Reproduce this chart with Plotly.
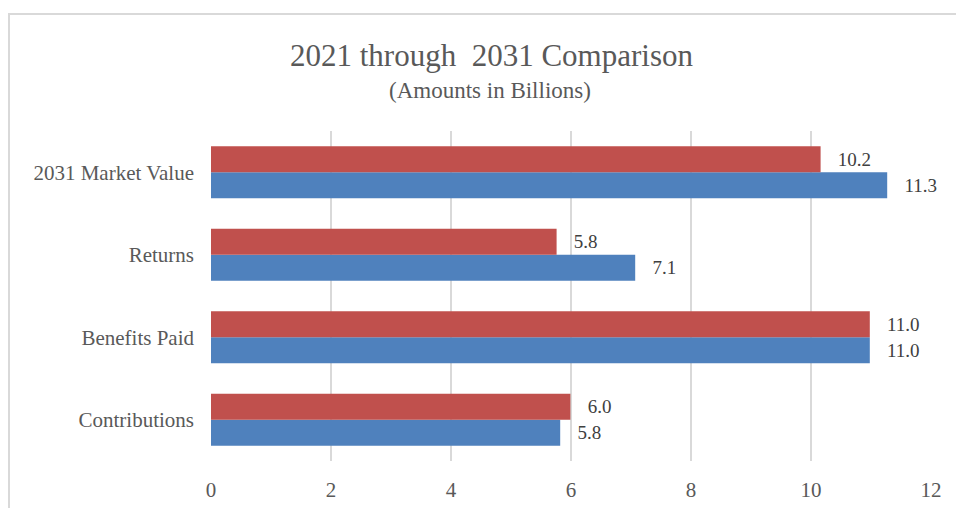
import plotly.graph_objects as go

# Categories listed bottom-to-top (Plotly draws the first category at the bottom)
categories = ["Contributions", "Benefits Paid", "Returns", "2031 Market Value"]
values_2031 = [5.82, 10.98, 7.07, 11.27]   # blue series
values_2021 = [5.99, 10.98, 5.76, 10.16]   # red series
x_ticks = [0, 2, 4, 6, 8, 10, 12]

W, H = 956, 508
ML, MR, MT, MB = 211, 25, 131, 47
PW, PH = W - ML - MR, H - MT - MB

SERIF = "Liberation Serif"
LABEL_TPL = "\u00a0\u00a0\u00a0%{x:.1f}"

fig = go.Figure()
fig.add_trace(go.Bar(
    y=categories, x=values_2031, orientation="h", name="2031",
    marker=dict(color="#4F81BD", line=dict(width=0)),
    texttemplate=LABEL_TPL, textposition="outside", cliponaxis=False,
    constraintext="none",
    textfont=dict(family=SERIF, size=19, color="#404040"),
    hoverinfo="skip",
))
fig.add_trace(go.Bar(
    y=categories, x=values_2021, orientation="h", name="2021",
    marker=dict(color="#C0504D", line=dict(width=0)),
    texttemplate=LABEL_TPL, textposition="outside", cliponaxis=False,
    constraintext="none",
    textfont=dict(family=SERIF, size=19, color="#404040"),
    hoverinfo="skip",
))

# outer chart frame (left and top edges visible)
px2x = lambda p: (p - ML) / PW
px2y = lambda p: 1 - (p - MT) / PH
fig.add_shape(type="rect", xref="paper", yref="paper",
              x0=px2x(9), x1=px2x(W + 20), y0=px2y(H + 20), y1=px2y(14),
              line=dict(color="#d9d9d9", width=2), fillcolor="rgba(0,0,0,0)",
              layer="below")

fig.add_annotation(text="2021 through\u00a0 2031 Comparison", xref="paper", yref="paper",
                   x=px2x(491), y=px2y(55), xanchor="center", yanchor="middle",
                   showarrow=False, font=dict(family=SERIF, size=31, color="#595959"))
fig.add_annotation(text="(Amounts in Billions)", xref="paper", yref="paper",
                   x=px2x(490), y=px2y(90), xanchor="center", yanchor="middle",
                   showarrow=False, font=dict(family=SERIF, size=23, color="#595959"))

fig.update_layout(
    width=W, height=H,
    margin=dict(l=ML, r=MR, t=MT, b=MB, pad=0, autoexpand=False),
    paper_bgcolor="white", plot_bgcolor="white",
    barmode="group", bargap=0.37, bargroupgap=0,
    showlegend=False,
    xaxis=dict(range=[0, 12], tickvals=x_ticks, showgrid=True,
               gridcolor="#d9d9d9", gridwidth=1.5, zeroline=False,
               showline=False, ticks="", ticklen=0, ticklabelstandoff=14,
               automargin=False,
               tickfont=dict(family=SERIF, size=21, color="#595959")),
    yaxis=dict(showgrid=False, zeroline=False, showline=False, ticks="",
               ticklabelstandoff=16, automargin=False,
               tickfont=dict(family=SERIF, size=21, color="#595959")),
)

fig.write_html("out.html")
